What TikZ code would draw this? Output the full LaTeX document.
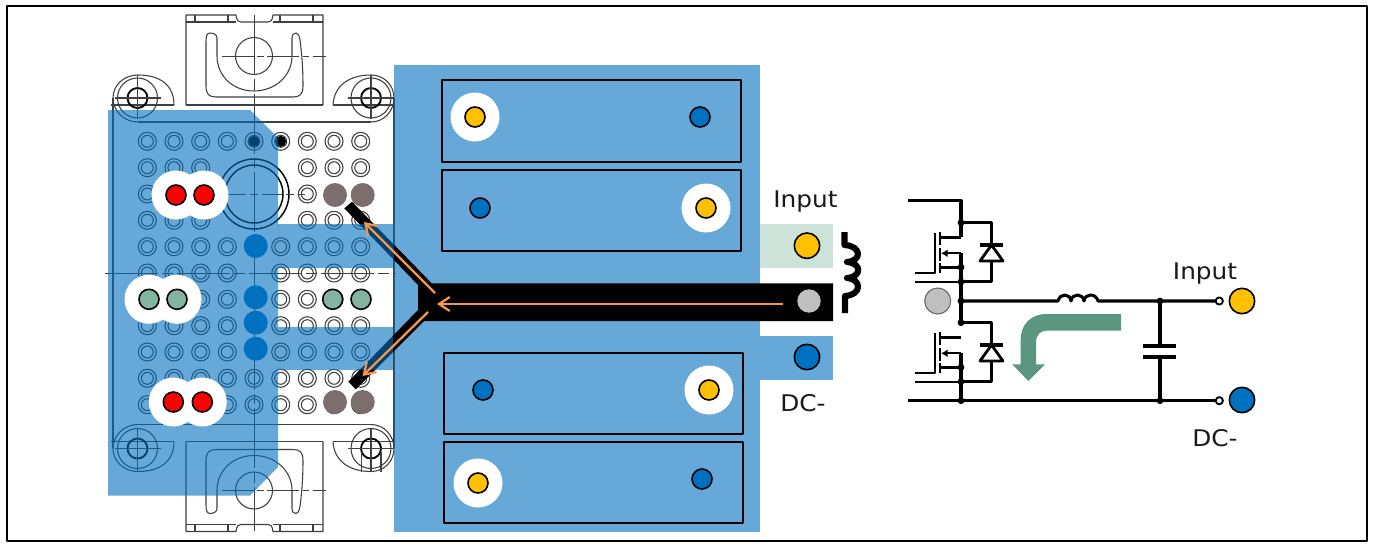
\documentclass[tikz,border=0pt]{standalone}
\usepackage{fontspec}
\setmainfont{DejaVu Sans}[FakeStretch=1.08]
\usetikzlibrary{arrows.meta}
\definecolor{bluefill}{HTML}{0070C0}
\definecolor{yel}{HTML}{FFC000}
\definecolor{grn}{HTML}{82B4A0}
\definecolor{grnlight}{HTML}{CDE2D9}
\definecolor{taupe}{HTML}{7D6E6E}
\definecolor{grayc}{HTML}{BFBFBF}
\definecolor{orng}{HTML}{F79646}
\definecolor{flow}{HTML}{5B9680}
\tikzset{
  ln/.style={draw=black!75,line width=.8},
  ctr/.style={draw=black!75,line width=.7},
  over/.style={fill=bluefill,fill opacity=.6},
  wire/.style={draw=black,line width=2.3},
  wthin/.style={draw=black,line width=1.1},
  edge/.style={draw=black,line width=1.2},
  lab/.style={font=\fontsize{17.2}{20}\selectfont,inner sep=0,text=black!90},
}
\newcommand{\halfmod}{%
  % mounting tab
  \draw[ln] (186,105)--(186,15)--(236,15) .. controls (237,21) and (238,22) .. (241,22)--(268,22) .. controls (271,22) and (272,21) .. (273,15)--(323,15)--(323,105);
  \draw[ln] (186,22)--(236,22) (273,22)--(323,22);
  \draw[ln] (195,15)--(195,22) (228,15)--(228,22) (280,15)--(280,22) (313,15)--(313,22);
  \draw[ln] (254,56) circle (18.5);
  \draw[ln] (210,33) .. controls (206,33) and (206,38) .. (206,43)--(206,86) .. controls (206,94) and (209,97) .. (216,97)--(293,97) .. controls (300,97) and (303,94) .. (303,86) .. controls (303,70) and (302,55) .. (300,40) .. controls (299,34) and (297,33) .. (296,33) .. controls (293,33) and (292,35) .. (292,38)--(292,56) .. controls (292,76) and (275,91) .. (254,91) .. controls (233,91) and (217,76) .. (217,56)--(217,38) .. controls (217,35) and (214,33) .. (210,33)--cycle;
  \draw[ctr,dash pattern=on 24 off 2.5 on 5 off 2.5] (222,56)--(326,56);
  % ears
  \draw[ln] (174,105) .. controls (174,85) and (160,75) .. (138,75) .. controls (124,75) and (113,85) .. (113,98) .. controls (113,111) and (124,122) .. (138,122);
  \draw[ln] (333,105) .. controls (334,85) and (350,75) .. (371,75) .. controls (384,75) and (394,85) .. (394,98) .. controls (394,111) and (384,122) .. (371,122);
  \draw[ln] (138,122)--(371,122);
  \draw[ln] (111,105)--(174,105) (186,105)--(323,105);
  \draw[ln] (333,105)--(394,105);
  \foreach \ex in {137.5,371}{
    \draw[ln] (\ex,98) circle (20);
    \draw[draw=black,line width=1.4] (\ex,98) circle (10);
    \draw[ln] (\ex-23,98)--(\ex+23,98) (\ex,75)--(\ex,119);
  }
}
\begin{document}
\begin{tikzpicture}[x=.75pt,y=-.75pt,line join=round]
\useasboundingbox (0,0) rectangle (1375,543);
\fill[white] (0,0) rectangle (1375,543);
\draw[draw=black,line width=1.6] (7,6) rectangle (1367,541);

% module drawing
\halfmod
\begin{scope}[shift={(0,546.5)},yscale=-1]\halfmod\end{scope}
\draw[ln] (113,98)--(113,448) (394,98)--(394,448);
\draw[ctr,dash pattern=on 45 off 3 on 8 off 3] (254,15)--(254,531);
\draw[ctr,dash pattern=on 40 off 3 on 8 off 3] (105,273)--(396,273);
\draw[ln] (361.5,452)--(361.5,472) (381,452)--(381,472);
% big ring
\draw[draw=black,line width=1.1] (254,194) circle (35);
\draw[draw=black,line width=1.1] (254,194) circle (29);
\draw[ctr,dash pattern=on 15 off 3 on 6 off 3] (226,194)--(305,194);
% pins
\foreach \row/\rowy in {0/141.3,1/167.7,2/194,3/220.3,4/246.7,5/273,6/299.3,7/325.7,8/352,9/378.3,10/404.7}{
  \foreach \col/\colx in {0/147.3,1/174,2/200.7,3/227.3,4/254,5/280.7,6/307.3,7/334,8/360.7}{
    \pgfmathtruncatemacro{\skip}{
      ((\row>=1 && \row<=3 && \col>=3 && \col<=5) || (\row==5 && \col==4) || (\row==4 && \col==4) || (\row>=6 && \row<=8 && \col==4)) ? 1 : 0}
    \ifnum\skip=0
      \draw[ln] (\colx,\rowy) circle (9);
      \draw[ln] (\colx,\rowy) circle (6);
    \fi
  }
}
\fill[black] (254,141.3) circle (5.5) (280.7,141.3) circle (5.5);

% blue overlays
\path[over] (108,110)--(250,110)--(278,138)--(278,467)--(250,495.7)--(108,495.7)--cycle;
\path[over] (394,65) rectangle (760,532);

% black fork
\fill[black] (344.3,208.3)--(352,201.7)--(431.7,283.3)--(833,283.3)--(833,321)--(424,321)--(355.7,389.3)--(348.3,381.7)--(418,310)--(418,285)--cycle;
% strips over the fork
\path[over] (278,224) rectangle (394,268);
\path[over] (278,327.3) rectangle (393,370);
\fill[grnlight] (760,224) rectangle (833,268);
\path[over] (760,336) rectangle (833,379.5);

% inductor symbol
\draw[draw=black,line width=4.6] (844.5,232)--(844.5,245) .. controls (862,246) and (862,261) .. (847,262) .. controls (862,263) and (862,277) .. (847,278) .. controls (862,279) and (862,295) .. (845,296)--(845,313);

% flow arrows
\tikzset{oarrow/.style={draw=orng,line width=1.7,-{Straight Barb[length=8,width=10.5,line width=1.7]}}}
\coordinate (fs) at (783,304); \coordinate (fe) at (437,304);
\coordinate (us) at (435,293); \coordinate (ue) at (364,222);
\coordinate (ls) at (428,312); \coordinate (le) at (362.5,376);
\draw[oarrow] (fs)--(fe);
\draw[oarrow] (us)--(ue);
\draw[oarrow] (ls)--(le);

% halos
\foreach \x/\y in {176/195,204/195,149/299.3,177/299.3,173.3/402,202.3/402,475/117,706/208,709/390,478/483}{
  \fill[white] (\x,\y) circle (24.5);
}
% red
\foreach \x/\y in {176/195,204/195,173.3/402,202.3/402}{
  \filldraw[fill=red,edge] (\x,\y) circle (10);
}
% green
\foreach \x/\y in {149/299.3,177/299.3,332.7/299.3,361/299.3}{
  \filldraw[fill=grn,edge] (\x,\y) circle (10);
}
% taupe
\foreach \x/\y in {335/195,362.7/195,335/402,362.7/402}{
  \fill[taupe] (\x,\y) circle (12);
}
% solid blue pins
\foreach \y in {246,297.3,322.7,348.7}{
  \fill[bluefill] (255.7,\y) circle (12);
}
% card frames
\foreach \xa/\ya/\xb/\yb in {442/80/741/162,442/170/741/251,444/353/743/434,444/442/743/523}{
  \draw[draw=black,line width=2.2] (\xa,\ya) rectangle (\xb,\yb);
}
% card terminals
\foreach \x/\y in {475/117,706/208,709/390,478/483}{
  \filldraw[fill=yel,edge] (\x,\y) circle (10);
}
\foreach \x/\y in {700/117,480/208,483/390,702/479}{
  \filldraw[fill=bluefill,edge] (\x,\y) circle (10);
}
% terminals
\filldraw[fill=yel,edge] (807,245.7) circle (12.7);
\fill[grayc] (809,301) circle (11.7);
\filldraw[fill=bluefill,edge] (807,357) circle (12.7);
\node[lab] (inA) at (805.5,201.5) {Input};
\node[lab] (dcA) at (803,403) {DC-};

% circuit --------------------------------------------------
\coordinate (topL) at (908,200.7);
\coordinate (botL) at (908,400.7);
\coordinate (sw) at (961,301);
\coordinate (botJ) at (961,400.7);
\coordinate (capT) at (1160,301);
\coordinate (capB) at (1160,400.7);
\coordinate (rT) at (1219.3,301);
\coordinate (rB) at (1219.3,400.7);
\draw[wire] (topL)--(961,200.7)--(961,237);
\draw[wire] (botL)--(rB);
\draw[wire] (sw)--(1058,301) .. controls (1060,293) and (1070,293) .. (1071,301) .. controls (1072,293) and (1083,293) .. (1084,301) .. controls (1085,293) and (1096,293) .. (1098,301)--(rT);
\draw[wire] (961,253.3)--(961,322.7);
\draw[wire] (961,353.3)--(botJ);
\draw[wire] (capT)--(1160,346) (1160,357)--(capB);
\draw[wire] (1143,346)--(1176,346) (1143,357)--(1176,357);
\foreach \dy in {0,100}{
  \begin{scope}[yshift={-\dy*.75pt}]
  \draw[wire] (961,222.7)--(991.5,222.7)--(991.5,281.7)--(961,281.7);
  \filldraw[draw=black,line width=2.1,fill=white] (991.5,245)--(980,261)--(1003,261)--cycle;
  \draw[wire] (979.5,245)--(1002.5,245);
  \draw[wire] (961,237.3)--(940,237.3);
  \draw[wire] (961,267.3)--(940,267.3);
  \draw[draw=black,line width=1.4,-{Latex[length=5,width=6]}] (961,253.3)--(941,253.3);
  \draw[draw=black,line width=1.6] (940,232)--(940,245) (940,248)--(940,261) (940,263)--(940,273);
  \draw[wthin] (935,232.7)--(935,273)--(915,273);
  \draw[wthin] (915,282)--(961,282);
  \fill[black] (961,222.7) circle (3.4) (961,267.3) circle (3.4) (961,281.7) circle (3.4);
  \end{scope}
}
\foreach \p in {sw,botJ,capT,capB}{\fill[black] (\p) circle (3.4);}
\filldraw[fill=white,draw=black,line width=1.4] (rT) circle (3.6);
\filldraw[fill=white,draw=black,line width=1.4] (rB) circle (3.6);
% switch-node disk and terminals
\filldraw[fill=grayc,draw=black!60,line width=.8] (937.7,301) circle (13);
\filldraw[fill=yel,edge] (1242,301) circle (12.7);
\filldraw[fill=bluefill,edge] (1242,400) circle (12.7);
% flow arrow
\fill[flow] (1121,314)--(1046.7,314) .. controls (1031,314) and (1020.7,324) .. (1020.7,340)--(1020.7,364.3)--(1012.3,364.3)--(1028.3,381)--(1045,364.3)--(1036,364.3)--(1036,343) .. controls (1036,335) and (1040,330.7) .. (1046.7,330.7)--(1121,330.7)--cycle;
\node[lab] (inB) at (1205,274) {Input};
\node[lab] (dcB) at (1215,438) {DC-};
\end{tikzpicture}
\end{document}
